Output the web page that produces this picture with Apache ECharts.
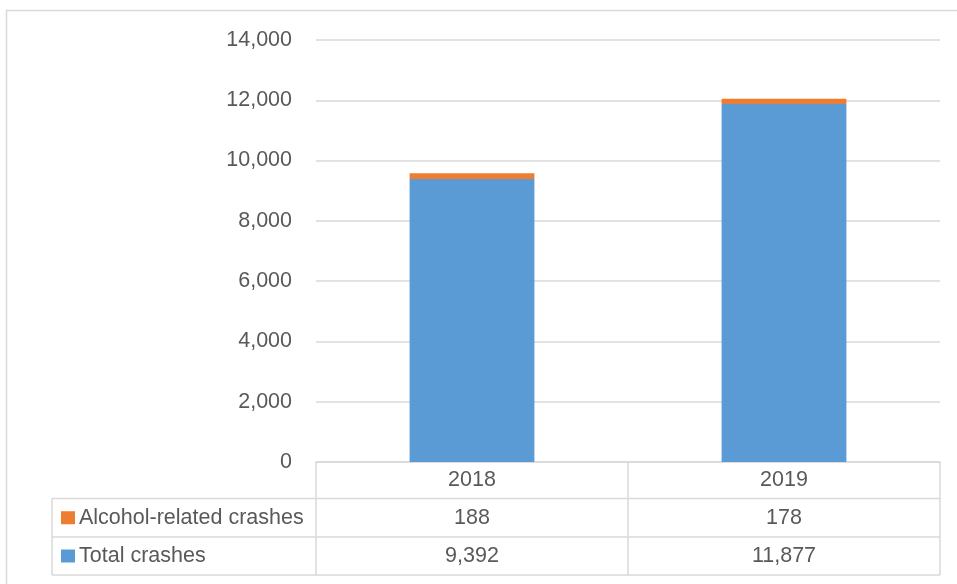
<!DOCTYPE html>
<html>
<head>
<meta charset="utf-8">
<script src="https://cdn.jsdelivr.net/npm/echarts@6/dist/echarts.min.js"></script>
<style>
  html, body { margin: 0; padding: 0; background: #fff; }
  #chart { width: 957px; height: 584px; }
</style>
</head>
<body>
<div id="chart"></div>
<script>
// Crash counts by year
const categories = ['2018', '2019'];
const totalCrashes = [9392, 11877];
const alcoholCrashes = [188, 178];
const seriesNames = ['Alcohol-related crashes', 'Total crashes'];

const BLUE = '#5B9BD5';
const ORANGE = '#ED7D31';
const LINE = '#D9D9D9';
const TEXT = '#595959';
const FONT = '"Liberation Sans", Arial, sans-serif';
const FS = 21.5;

const GRID = { left: 316, right: 17, top: 40, bottom: 122 };

const chart = echarts.init(document.getElementById('chart'), null, { renderer: 'canvas' });

chart.setOption({
  animation: false,
  backgroundColor: '#fff',
  grid: GRID,
  xAxis: {
    type: 'category',
    data: categories,
    axisLine: { show: true, lineStyle: { color: LINE, width: 1.5 } },
    axisTick: { show: false },
    axisLabel: { show: false },
    splitLine: { show: false }
  },
  yAxis: {
    type: 'value',
    min: 0,
    max: 14000,
    interval: 2000,
    axisLine: { show: false },
    axisTick: { show: false },
    axisLabel: {
      color: TEXT,
      fontFamily: FONT,
      fontSize: FS,
      margin: 24,
      formatter: v => v.toLocaleString('en-US')
    },
    splitLine: { lineStyle: { color: LINE, width: 1.5 } }
  },
  series: [
    {
      name: seriesNames[1],
      type: 'bar',
      stack: 'crashes',
      barWidth: '40%',
      itemStyle: { color: BLUE },
      data: totalCrashes
    },
    {
      name: seriesNames[0],
      type: 'bar',
      stack: 'crashes',
      barWidth: '40%',
      itemStyle: { color: ORANGE },
      data: alcoholCrashes
    }
  ]
});

// Data table under the plot area
const W = 957, H = 584;
const xL = GRID.left, xR = W - GRID.right;
const yTop = H - GRID.bottom;
const rowYs = [yTop, 498.5, 537, 575];
const tableLeft = 52;
const colW = (xR - xL) / categories.length;

const lineStyle = { stroke: LINE, lineWidth: 1.5 };
const els = [];

// outer chart border
els.push({ type: 'rect', shape: { x: 6.5, y: 10.5, width: 1200, height: 900 }, style: { fill: null, stroke: LINE, lineWidth: 1.5 }, silent: true });

// horizontal rules
els.push({ type: 'line', shape: { x1: tableLeft, y1: rowYs[1], x2: xR, y2: rowYs[1] }, style: lineStyle });
els.push({ type: 'line', shape: { x1: tableLeft, y1: rowYs[2], x2: xR, y2: rowYs[2] }, style: lineStyle });
els.push({ type: 'line', shape: { x1: tableLeft, y1: rowYs[3], x2: xR, y2: rowYs[3] }, style: lineStyle });
// vertical rules
els.push({ type: 'line', shape: { x1: tableLeft, y1: rowYs[1], x2: tableLeft, y2: rowYs[3] }, style: lineStyle });
for (let i = 0; i <= categories.length; i++) {
  const x = xL + colW * i;
  els.push({ type: 'line', shape: { x1: x, y1: rowYs[0], x2: x, y2: rowYs[3] }, style: lineStyle });
}

const txt = (x, y, s, align) => ({
  type: 'text', x, y,
  style: { text: s, fill: TEXT, font: FS + 'px ' + FONT, textAlign: align || 'center', textVerticalAlign: 'middle' }
});

const rows = [
  { name: seriesNames[0], color: ORANGE, values: alcoholCrashes },
  { name: seriesNames[1], color: BLUE, values: totalCrashes }
];

categories.forEach((c, i) => {
  const cx = chart.convertToPixel({ xAxisIndex: 0 }, c);
  els.push(txt(cx, (rowYs[0] + rowYs[1]) / 2, c));
  rows.forEach((r, j) => {
    const cy = (rowYs[j + 1] + rowYs[j + 2]) / 2;
    els.push(txt(cx, cy, r.values[i].toLocaleString('en-US')));
  });
});

rows.forEach((r, j) => {
  const cy = (rowYs[j + 1] + rowYs[j + 2]) / 2;
  els.push({ type: 'rect', shape: { x: 61, y: cy - 6.5, width: 14, height: 13 }, style: { fill: r.color } });
  els.push(txt(79, cy, r.name, 'left'));
});

chart.setOption({ graphic: { elements: els } });
</script>
</body>
</html>
